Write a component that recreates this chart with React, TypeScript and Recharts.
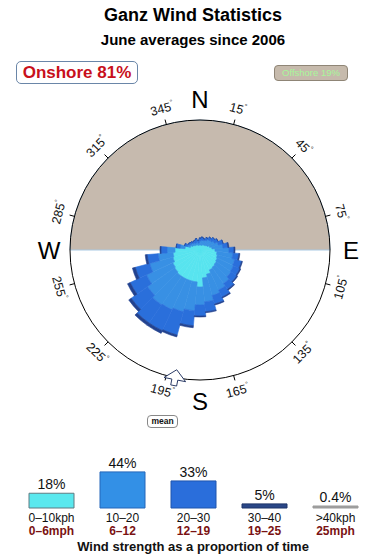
import React from 'react';
import {
  PieChart, Pie, RadialBarChart, RadialBar, PolarAngleAxis, PolarRadiusAxis,
  RadarChart, Radar, BarChart, Bar, XAxis, YAxis, Cell, LabelList,
} from 'recharts';

const FONT = '"Liberation Sans", Arial, Helvetica, sans-serif';

// wind rose: 10-degree bins (labelled by bin centre), stacked by speed band (radius units, 130 = rim)
const directions = [0, 10, 20, 30, 40, 50, 60, 70, 80, 90, 100, 110, 120, 130, 140, 150, 160, 170,
  180, 190, 200, 210, 220, 230, 240, 250, 260, 270, 280, 290, 300, 310, 320, 330, 340, 350];
const calm = [5, 5, 5, 6, 6, 7, 8, 10, 12, 15, 17, 18, 19, 20, 21, 22, 25, 28,
  37, 32, 32, 32, 32, 31, 30, 28, 27, 25, 15, 10, 8, 7, 6, 6, 5, 5];
const light = [4, 5, 5, 5, 7, 7, 8, 9, 11, 14, 16, 18, 18, 18, 20, 22, 22, 24,
  18, 29, 32, 34, 35, 33, 29, 24, 15, 8, 5, 3, 3, 3, 3, 2, 4, 2];
const moderate = [3, 3, 2, 3, 3, 4, 4, 5, 5, 5, 6, 7, 7, 7, 7, 8, 9, 10,
  11, 15, 24, 23, 22, 20, 18, 15, 11, 6, 4, 3, 2, 2, 2, 3, 3, 3];
const strong = [0, 0, 0, 0, 0, 0, 0, 0, 1, 1, 1, 1, 1, 1, 1, 1, 1, 1,
  1, 2, 2, 3, 3, 3, 3, 3, 2, 1, 0, 0, 0, 0, 0, 0, 0, 0];

const compassTicks = ['15', '45', '75', '105', '135', '165', '195', '225', '255', '285', '315', '345'];
const cardinals = ['N', 'E', 'S', 'W'];
const meanDirection = 191;

const offshore = [{ name: 'Offshore', value: 19 }];

// speed distribution
const speedKph = ['0–10kph', '10–20', '20–30', '30–40', '>40kph'];
const speedMph = ['0–6mph', '6–12', '12–19', '19–25', '25mph'];
const sharePct = [18, 44, 33, 5, 0.4];
const barFills = ['#5ae8ee', '#3390e6', '#2a6edb', '#2a4787', '#a0a0a0'];
const barStrokes = ['#5f7b82', '#2567ba', '#1f54ad', '#1c3468', '#9a9a9a'];

const roseData = directions.map((d, i) => ({
  dir: d, calm: calm[i], light: light[i], moderate: moderate[i], strong: strong[i],
}));
const tickData = compassTicks.map(t => ({ deg: t, v: 0 }));
const cardinalData = cardinals.map(c => ({ c, v: 0 }));
const meanData = [{ m: 'mean', v: 0 }];
const speedData = speedKph.map((k, i) => ({ kph: k, mph: speedMph[i], share: sharePct[i] }));

const W = 390;
const H = 440;
const CX = 200;
const CY = 250;
const R = 130;
// centric sectors run from the band start counter-clockwise, so shift by half a bin
const roseStart = 90 - 5;

const layer: React.CSSProperties = { position: 'absolute', left: 0, top: 0 };

const DegreeTick = (props: any) => {
  const { x, y, payload } = props;
  const a = (payload.coordinate * Math.PI) / 180;
  const lx = x + Math.cos(a) * 11;
  const ly = y - Math.sin(a) * 11;
  const d = (((90 - payload.coordinate) % 360) + 360) % 360;
  let rot = d;
  if (d > 90 && d < 270) rot = d - 180;
  else if (d >= 270) rot = d - 360;
  return (
    <text x={lx} y={ly} textAnchor="middle" dominantBaseline="central" fontSize={12.5}
      fontFamily={FONT} fill="#111" transform={`rotate(${rot} ${lx} ${ly})`}>
      {payload.value}
      <tspan fontSize={7} dy={-5}>°</tspan>
    </text>
  );
};

const CardinalTick = (props: any) => {
  const { x, y, payload } = props;
  return (
    <text x={x} y={y} textAnchor="middle" dominantBaseline="central" fontSize={24}
      fontFamily={FONT} fill="#000">
      {payload.value}
    </text>
  );
};

const MeanArrow = (props: any) => {
  const { x, y, payload } = props;
  const a = (payload.coordinate * Math.PI) / 180;
  // inward unit vector and its perpendicular
  const ux = -Math.cos(a);
  const uy = Math.sin(a);
  const px = -uy;
  const py = ux;
  const pt = (along: number, side: number) =>
    `${x + ux * along + px * side},${y + uy * along + py * side}`;
  const pts = [
    pt(0, -3), pt(6, -3), pt(6, -11), pt(16, 0), pt(6, 11), pt(6, 3), pt(0, 3),
  ].join(' ');
  return <polygon points={pts} fill="#fff" stroke="#2b3b66" strokeWidth={1} />;
};

const SpeedTick = (props: any) => {
  const { x, y, index } = props;
  return (
    <g fontFamily={FONT} textAnchor="middle">
      <text x={x} y={y + 14} fontSize={12} fill="#111">{speedKph[index]}</text>
      <text x={x} y={y + 27} fontSize={12} fontWeight="bold" fill="#7a1212">{speedMph[index]}</text>
    </g>
  );
};

export default function App() {
  return (
    <div style={{ position: 'absolute', left: 0, top: 0, width: 390, height: 560, background: '#fff', fontFamily: FONT, overflow: 'hidden' }}>
      <div style={{ position: 'absolute', top: 5, left: 0, width: 386, textAlign: 'center', fontSize: 18, fontWeight: 'bold', lineHeight: '20px', color: '#000' }}>
        Ganz Wind Statistics
      </div>
      <div style={{ position: 'absolute', top: 31, left: 0, width: 386, textAlign: 'center', fontSize: 15, fontWeight: 'bold', lineHeight: '18px', color: '#000' }}>
        June averages since 2006
      </div>
      <div style={{ position: 'absolute', top: 61, left: 16, width: 120, height: 21, border: '1px solid #6a86a8', borderRadius: 5, textAlign: 'center', fontSize: 17, fontWeight: 'bold', lineHeight: '21px', color: '#c8101c' }}>
        Onshore 81%
      </div>
      <div style={{ position: 'absolute', top: 65, left: 274, width: 72, height: 14, background: '#c6baac', border: '1px solid #8f8576', borderRadius: 4, textAlign: 'center', fontSize: 9.5, lineHeight: '14px', color: '#a8f79a' }}>
        Offshore 19%
      </div>

      <div style={layer}>
        <PieChart width={W} height={H} margin={{ top: 0, right: 0, bottom: 0, left: 0 }}>
          <Pie data={offshore} dataKey="value" cx={CX} cy={CY} outerRadius={R} startAngle={0} endAngle={180}
            fill="#c6baae" stroke="#a9c9e3" strokeWidth={1} isAnimationActive={false} />
        </PieChart>
      </div>

      <div style={layer}>
        <RadialBarChart width={W} height={H} data={roseData} layout="centric" cx={CX} cy={CY}
          innerRadius={0} outerRadius={R} startAngle={roseStart} endAngle={roseStart - 360} barCategoryGap={0}
          margin={{ top: 0, right: 0, bottom: 0, left: 0 }}>
          <PolarAngleAxis type="category" dataKey="dir" tick={false} axisLine={false} tickLine={false} />
          <PolarRadiusAxis type="number" domain={[0, 130]} tick={false} axisLine={false} />
          <RadialBar dataKey="calm" stackId="w" fill="#58e4ef" stroke="#58e4ef" strokeWidth={0.6} isAnimationActive={false} />
          <RadialBar dataKey="light" stackId="w" fill="#3890e4" stroke="#3890e4" strokeWidth={0.6} isAnimationActive={false} />
          <RadialBar dataKey="moderate" stackId="w" fill="#2a6fdb" stroke="#2a6fdb" strokeWidth={0.6} isAnimationActive={false} />
          <RadialBar dataKey="strong" stackId="w" fill="#22428f" stroke="#22428f" strokeWidth={0.6} isAnimationActive={false} />
        </RadialBarChart>
      </div>

      <div style={layer}>
        <RadarChart width={W} height={H} data={tickData} cx={CX} cy={CY} outerRadius={R}
          startAngle={75} endAngle={-285} margin={{ top: 0, right: 0, bottom: 0, left: 0 }}>
          <PolarAngleAxis dataKey="deg" axisLineType="circle" stroke="#000" tickSize={5}
            tickLine={{ stroke: '#000' }} tick={<DegreeTick />} />
          <Radar dataKey="v" stroke="none" fill="none" dot={false} isAnimationActive={false} />
        </RadarChart>
      </div>

      <div style={layer}>
        <RadarChart width={W} height={H} data={cardinalData} cx={CX} cy={CY} outerRadius={R}
          startAngle={90} endAngle={-270} margin={{ top: 0, right: 0, bottom: 0, left: 0 }}>
          <PolarAngleAxis dataKey="c" axisLine={false} tickLine={false} tickSize={21} tick={<CardinalTick />} />
          <Radar dataKey="v" stroke="none" fill="none" dot={false} isAnimationActive={false} />
        </RadarChart>
      </div>

      <div style={layer}>
        <RadarChart width={W} height={H} data={meanData} cx={CX} cy={CY} outerRadius={R}
          startAngle={90 - meanDirection} endAngle={-270 - meanDirection}
          margin={{ top: 0, right: 0, bottom: 0, left: 0 }}>
          <PolarAngleAxis dataKey="m" axisLine={false} tickLine={false} tickSize={0} tick={<MeanArrow />} />
          <Radar dataKey="v" stroke="none" fill="none" dot={false} isAnimationActive={false} />
        </RadarChart>
      </div>

      <div style={{ position: 'absolute', top: 415, left: 147, width: 29, height: 11, border: '1px solid #888', borderRadius: 4, textAlign: 'center', fontSize: 8.5, fontWeight: 'bold', lineHeight: '11px', color: '#111', background: '#fff' }}>
        mean
      </div>

      <div style={{ ...layer, top: 440 }}>
        <BarChart width={390} height={120} data={speedData} margin={{ top: 27, right: 19, bottom: 0, left: 16 }}>
          <XAxis dataKey="kph" height={52} axisLine={false} tickLine={false} tickSize={0} tickMargin={0}
            interval={0} tick={<SpeedTick />} />
          <YAxis hide domain={[0, 50]} />
          <Bar dataKey="share" barSize={45} minPointSize={2} isAnimationActive={false}>
            {speedData.map((_, i) => (
              <Cell key={i} fill={barFills[i]} stroke={barStrokes[i]} strokeWidth={1} />
            ))}
            <LabelList dataKey="share" position="top" offset={4} fill="#111" fontSize={14}
              fontFamily={FONT} formatter={(v: any) => `${v}%`} />
          </Bar>
        </BarChart>
      </div>

      <div style={{ position: 'absolute', top: 539, left: 0, width: 386, textAlign: 'center', fontSize: 13, fontWeight: 'bold', lineHeight: '15px', color: '#111' }}>
        Wind strength as a proportion of time
      </div>
    </div>
  );
}
